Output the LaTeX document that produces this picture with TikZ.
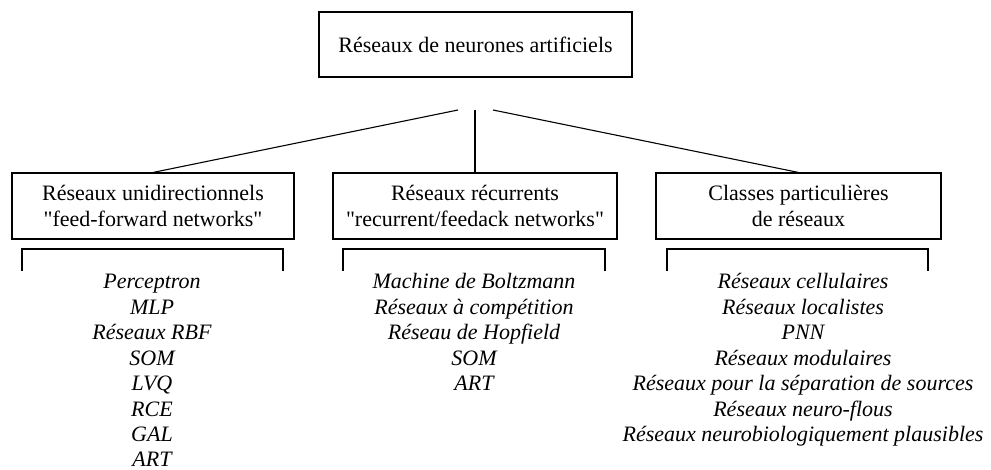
\documentclass[tikz,border=0pt]{standalone}
\usepackage{fontspec}
\setmainfont{Liberation Serif}[Ligatures=TeXOff]
\tikzset{
  box/.style={draw, line width=1.1pt, inner sep=0pt, align=center,
    font=\fontsize{22}{25.4}\selectfont},
  item/.style={anchor=base, inner sep=0pt, font=\fontsize{22}{25.4}\selectfont\itshape},
  conn/.style={line width=1.1pt},
  bracket/.style={line width=1.1pt},
}
\begin{document}
\begin{tikzpicture}[x=1pt, y=-1pt]
\useasboundingbox (0,0) rectangle (991,470);

\node[box, minimum width=313pt, minimum height=65pt] (root) at (475.5,44.5) {Réseaux de neurones artificiels};
\node[box, minimum width=282pt, minimum height=66pt] (ff) at (153,206) {Réseaux unidirectionnels\\"feed-forward networks"};
\node[box, minimum width=284pt, minimum height=66pt] (rec) at (475,206) {Réseaux récurrents\\"recurrent/feedack networks"};
\node[box, minimum width=285pt, minimum height=66pt] (cls) at (798.5,206) {Classes particulières\\de réseaux};

\coordinate (sl) at (458,110);
\coordinate (sm) at (475,110);
\coordinate (sr) at (493,110);
\draw[conn] (sl) -- (ff.north);
\draw[conn] (sm) -- (rec.north);
\draw[conn] (sr) -- (cls.north);

\draw[bracket] (22,271) -- (22,249) -- (283,249) -- (283,271);
\draw[bracket] (343,271) -- (343,249) -- (605,249) -- (605,271);
\draw[bracket] (667,271) -- (667,249) -- (928,249) -- (928,271);

\foreach \t [count=\i from 0] in {Perceptron, MLP, Réseaux RBF, SOM, LVQ, RCE, GAL, ART}
  \node[item] (a\i) at (152,{289+25.4*\i}) {\t};
\foreach \t [count=\i from 0] in {Machine de Boltzmann, Réseaux à compétition, Réseau de Hopfield, SOM, ART}
  \node[item] (b\i) at (474,{289+25.4*\i}) {\t};
\foreach \t [count=\i from 0] in {Réseaux cellulaires, Réseaux localistes, PNN, Réseaux modulaires, Réseaux pour la séparation de sources, Réseaux neuro-flous, Réseaux neurobiologiquement plausibles}
  \node[item] (c\i) at (803,{289+25.4*\i}) {\t};
\end{tikzpicture}
\end{document}
